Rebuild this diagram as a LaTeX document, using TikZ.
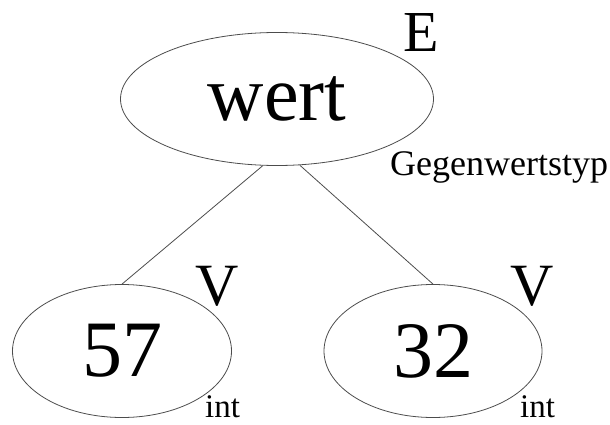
\documentclass[tikz,border=0pt]{standalone}
\usepackage{fontspec}
\setmainfont{Liberation Serif}
\usetikzlibrary{shapes.geometric}

\newcommand{\fsz}[1]{\fontsize{#1}{#1}\selectfont}

\begin{document}
\begin{tikzpicture}[x=1pt, y=-1pt,
  every node/.style={inner sep=0pt},
  knot/.style={ellipse, draw=black!70, line width=0.8pt, minimum height=133pt},
  tag/.style={anchor=base west},
  edge/.style={draw=black!70, line width=0.8pt}]
\useasboundingbox (0,0) rectangle (610,425);
% nodes of the tree
\node[knot, minimum width=313pt, font=\fsz{78}] (wert) at (277,99) {wert};
\node[knot, minimum width=219pt, font=\fsz{80}] (links) at (122,351) {57};
\node[knot, minimum width=218pt, font=\fsz{80}] (rechts) at (433,351) {32};
% kinds and types
\node[tag, font=\fsz{58}] (kindE) at (403,52) {E};
\node[tag, font=\fsz{36}] (typE) at (390,175) {Gegenwertstyp};
\node[tag, font=\fsz{60}] (kindL) at (195,305) {V};
\node[tag, font=\fsz{33}] (typL) at (205,417) {int};
\node[tag, font=\fsz{60}] (kindR) at (510,305) {V};
\node[tag, font=\fsz{33}] (typR) at (520,417) {int};
% edges
\draw[edge] (wert.-102) -- (links.north);
\draw[edge] (wert.-71) -- (rechts.north);
\end{tikzpicture}
\end{document}
